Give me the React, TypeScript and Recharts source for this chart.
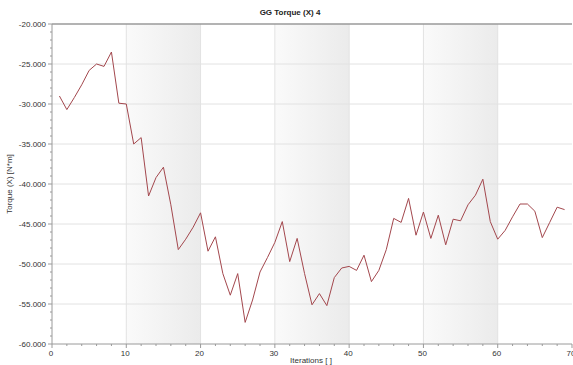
import React from 'react';
import {
  LineChart,
  Line,
  XAxis,
  YAxis,
  ReferenceArea,
  ReferenceLine,
  Customized,
} from 'recharts';

const iterations = [
  1, 2, 3, 4, 5, 6, 7, 8, 9, 10, 11, 12, 13, 14, 15, 16, 17, 18, 19, 20, 21, 22, 23,
  24, 25, 26, 27, 28, 29, 30, 31, 32, 33, 34, 35, 36, 37, 38, 39, 40, 41, 42, 43, 44,
  45, 46, 47, 48, 49, 50, 51, 52, 53, 54, 55, 56, 57, 58, 59, 60, 61, 62, 63, 64, 65,
  66, 67, 68, 69,
];

const torque = [
  -29.0, -30.7, -29.2, -27.6, -25.8, -25.0, -25.3, -23.5, -29.9, -30.0, -35.0, -34.2,
  -41.5, -39.2, -37.9, -42.6, -48.2, -46.9, -45.4, -43.6, -48.4, -46.6, -51.2, -53.9,
  -51.2, -57.3, -54.5, -51.0, -49.2, -47.3, -44.7, -49.7, -46.8, -51.2, -55.1, -53.7,
  -55.2, -51.7, -50.5, -50.3, -50.8, -48.9, -52.2, -50.8, -48.2, -44.3, -44.8, -41.8,
  -46.4, -43.5, -46.8, -43.9, -47.6, -44.4, -44.6, -42.6, -41.4, -39.4, -44.7, -46.9,
  -45.8, -44.1, -42.5, -42.5, -43.4, -46.7, -44.8, -42.9, -43.2,
];

const xMajor = [0, 10, 20, 30, 40, 50, 60, 70];
const xTicks = [
  0, 2, 4, 6, 8, 10, 12, 14, 16, 18, 20, 22, 24, 26, 28, 30, 32, 34, 36, 38, 40, 42,
  44, 46, 48, 50, 52, 54, 56, 58, 60, 62, 64, 66, 68, 70,
];
const yMajor = [-20, -25, -30, -35, -40, -45, -50, -55, -60];
const yTicks = [
  -20, -21, -22, -23, -24, -25, -26, -27, -28, -29, -30, -31, -32, -33, -34, -35, -36,
  -37, -38, -39, -40, -41, -42, -43, -44, -45, -46, -47, -48, -49, -50, -51, -52, -53,
  -54, -55, -56, -57, -58, -59, -60,
];
const bands = [
  [10, 20],
  [30, 40],
  [50, 60],
];

const data = iterations.map((it, i) => ({ it, value: torque[i] }));

const FONT = '"Liberation Sans", Arial, sans-serif';

const XTick = (props: any) => {
  const { x, y, payload } = props;
  const major = xMajor.includes(payload.value);
  return (
    <g>
      <line x1={x} y1={y} x2={x} y2={y + (major ? 4 : 2)} stroke="#9a9a9a" strokeWidth={1} />
      {major && (
        <text x={x - 1} y={y + 12} textAnchor="middle" fontSize={8} fill="#333" fontFamily={FONT}>
          {payload.value}
        </text>
      )}
    </g>
  );
};

const YTick = (props: any) => {
  const { x, y, payload } = props;
  const major = yMajor.includes(payload.value);
  return (
    <g>
      <line x1={x} y1={y} x2={x - (major ? 4 : 2)} y2={y} stroke="#9a9a9a" strokeWidth={1} />
      {major && (
        <text x={x - 6} y={y + 3} textAnchor="end" fontSize={8} fill="#333" fontFamily={FONT}>
          {payload.value.toFixed(3)}
        </text>
      )}
    </g>
  );
};

const Labels = () => (
  <g fontFamily={FONT}>
    <text x={290} y={15} textAnchor="middle" fontSize={8} fontWeight="bold" fill="#222">
      GG Torque (X) 4
    </text>
    <text
      x={12}
      y={184}
      textAnchor="middle"
      fontSize={8}
      fill="#333"
      transform="rotate(-90 12 184)"
    >
      Torque (X) [N*m]
    </text>
    <text x={311} y={363} textAnchor="middle" fontSize={8} fill="#333">
      Iterations [ ]
    </text>
  </g>
);

export default function App() {
  return (
    <div style={{ position: 'absolute', left: 0, top: 0, width: 573, height: 365, background: '#fff' }}>
      <LineChart
        width={573}
        height={365}
        data={data}
        margin={{ top: 24, right: 1, bottom: 0, left: 0 }}
      >
        <defs>
          <linearGradient id="band" x1="0" y1="0" x2="1" y2="0">
            <stop offset="0%" stopColor="#fafafa" />
            <stop offset="100%" stopColor="#ebebeb" />
          </linearGradient>
        </defs>
        {bands.map(([a, b]) => (
          <ReferenceArea key={a} x1={a} x2={b} fill="url(#band)" fillOpacity={1} stroke="none" />
        ))}
        {xMajor.slice(1, -1).map((v) => (
          <ReferenceLine key={'x' + v} x={v} stroke="#e2e2e2" strokeWidth={1} />
        ))}
        {yMajor.slice(1, -1).map((v) => (
          <ReferenceLine key={'y' + v} y={v} stroke="#e2e2e2" strokeWidth={1} />
        ))}
        <ReferenceLine y={-20} stroke="#9a9a9a" strokeWidth={1.5} />
        <XAxis
          dataKey="it"
          type="number"
          domain={[0, 70]}
          ticks={xTicks}
          interval={0}
          height={21}
          tickSize={0}
          tickMargin={0}
          tickLine={false}
          axisLine={{ stroke: '#9a9a9a' }}
          tick={<XTick />}
        />
        <YAxis
          type="number"
          domain={[-60, -20]}
          ticks={yTicks}
          interval={0}
          width={52}
          tickSize={0}
          tickMargin={0}
          tickLine={false}
          axisLine={{ stroke: '#9a9a9a' }}
          tick={<YTick />}
        />
        <Line
          type="linear"
          dataKey="value"
          stroke="#a3474d"
          strokeWidth={1}
          dot={false}
          isAnimationActive={false}
        />
        <Customized component={Labels} />
      </LineChart>
    </div>
  );
}
